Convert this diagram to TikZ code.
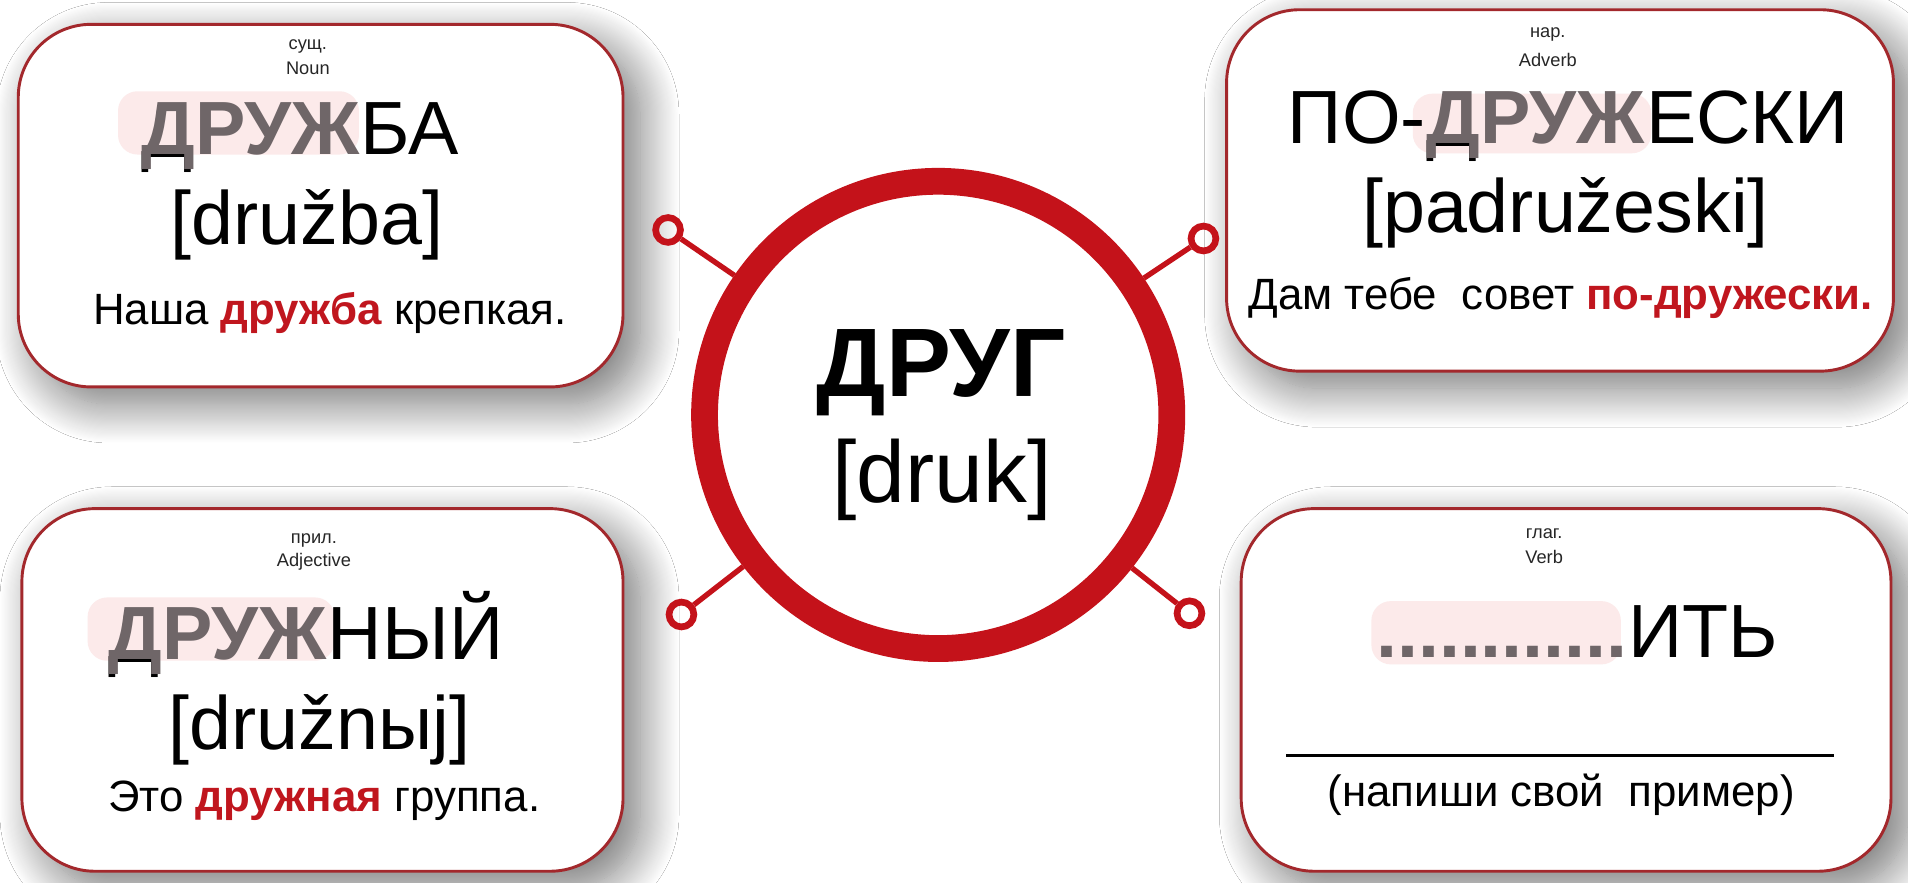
\documentclass[tikz,border=0pt]{standalone}
\usepackage{fontspec}
\setmainfont{Liberation Sans}
\usetikzlibrary{shadows.blur}
\definecolor{ringred}{HTML}{C4121A}
\definecolor{boxred}{HTML}{A3282C}
\definecolor{hired}{HTML}{C0161E}
\definecolor{rootgrey}{HTML}{6F6668}
\definecolor{pinkbg}{HTML}{FCEAEA}
\newcommand{\undD}{\rlap{\raisebox{-1.1pt}{\color{black}\mdseries Д}}}
\begin{document}
\begin{tikzpicture}[x=0.5pt,y=-0.5pt,
  card/.style={draw=boxred, line width=1.2pt, fill=white, rounded corners=30pt, inner sep=0,
     blur shadow={shadow xshift=7pt, shadow yshift=-7pt, shadow blur radius=16pt,
                  shadow blur steps=36, shadow opacity=55}},
  pinkbox/.style={fill=pinkbg, rounded corners=8pt},
  lab/.style={font=\fontsize{7.5}{9}\selectfont, text=black!85, inner sep=0},
  word/.style={font=\fontsize{31}{36}\selectfont, inner sep=0},
  root/.style={font=\fontsize{31}{36}\selectfont\bfseries, text=rootgrey, inner sep=0},
  sent/.style={font=\fontsize{18}{22}\selectfont, inner sep=0},
  hub/.style={circle, draw=ringred, line width=2.75pt, minimum size=10.2pt, inner sep=0},
  spoke/.style={draw=ringred, line width=2.2pt},
  ringstyle/.style={circle, draw=ringred, fill=white, line width=11pt, minimum size=192pt, inner sep=0}
]
\useasboundingbox (0,0) rectangle (1568,725.6);
\fill[white] (0,0) rectangle (1568,725.6);

% cards
\node[card, minimum width=248.5pt, minimum height=149pt] (tl) at (263.5,169) {};
\node[card, minimum width=274pt, minimum height=148.5pt] (tr) at (1282,156.5) {};
\node[card, minimum width=247pt, minimum height=149pt] (bl) at (265,567) {};
\node[card, minimum width=267pt, minimum height=149pt] (br) at (1287,567) {};

% pink highlights
\path[pinkbox] (97,75) rectangle (295,127);
\path[pinkbox] (1161,77) rectangle (1357,126);
\path[pinkbox] (72,491) rectangle (275,543);
\path[pinkbox] (1127,494) rectangle (1332,546);

% top-left card: noun
\node[lab] (tlpos) at (253,38) {сущ.};
\node[lab] (tleng) at (253,56) {Noun};
\node[root, anchor=base west] (tlroot) at (116,127) {\undD ДРУЖ};
\node[word, anchor=base west] (tlrest) at (tlroot.base east) {БА};
\node[word, anchor=base] (tltr) at (252.5,201) {[družba]};
\node[sent, anchor=base] (tlex) at (271,267) {Наша \textcolor{hired}{\bfseries дружба} крепкая.};

% top-right card: adverb
\node[lab] (trpos) at (1272,28) {нар.};
\node[lab] (treng) at (1272,49) {Adverb};
\node[word, anchor=base west] (trpre) at (1058,118) {ПО-};
\node[root, anchor=base west] (trroot) at (trpre.base east) {\undD ДРУЖ};
\node[word, anchor=base west] (trrest) at (trroot.base east) {ЕСКИ};
\node[word, anchor=base] (trtr) at (1286.5,191) {[padružeski]};
\node[sent, anchor=base] (trex) at (1282.5,254) {Дам тебе~ совет \textcolor{hired}{\bfseries по-дружески.}};

% bottom-left card: adjective
\node[lab] (blpos) at (258,444) {прил.};
\node[lab] (bleng) at (258,462) {Adjective};
\node[root, anchor=base west] (blroot) at (89,542) {\undD ДРУЖ};
\node[word, anchor=base west] (blrest) at (blroot.base east) {НЫЙ};
\node[word, anchor=base] (bltr) at (262.5,616) {[družnыj]};
\node[sent, anchor=base] (blex) at (266.5,667) {Это \textcolor{hired}{\bfseries дружная} группа.};

% bottom-right card: verb
\node[lab] (brpos) at (1269,438.5) {глаг.};
\node[lab] (breng) at (1269,458) {Verb};
\node[word, anchor=base west] (brsuf) at (1338,540) {ИТЬ};
\node[word, font=\fontsize{31}{36}\selectfont\bfseries, text=rootgrey, anchor=base east] (brdots) at (brsuf.base west) {............};
\coordinate (lineA) at (1057,621);
\coordinate (lineB) at (1507,621);
\draw[line width=1.4pt] (lineA) -- (lineB);
\node[sent, anchor=base] (brex) at (1283,663) {(напиши свой~ пример)};

% hubs and spokes
\node[hub] (h1) at (549,189) {};
\node[hub] (h2) at (989,196) {};
\node[hub] (h3) at (560,505) {};
\node[hub] (h4) at (977.5,504) {};
\node[ringstyle] (ring) at (771,341) {};
\draw[spoke] (h1) -- (ring);
\draw[spoke] (h2) -- (ring);
\draw[spoke] (h3) -- (ring);
\draw[spoke] (h4) -- (ring);

% centre word
\node[font=\fontsize{40}{48}\selectfont\bfseries, inner sep=0, anchor=base] (cw) at (773.5,326) {ДРУГ};
\node[font=\fontsize{36}{42}\selectfont, inner sep=0, anchor=base] (ct) at (774,413) {[druk]};
\end{tikzpicture}
\end{document}
